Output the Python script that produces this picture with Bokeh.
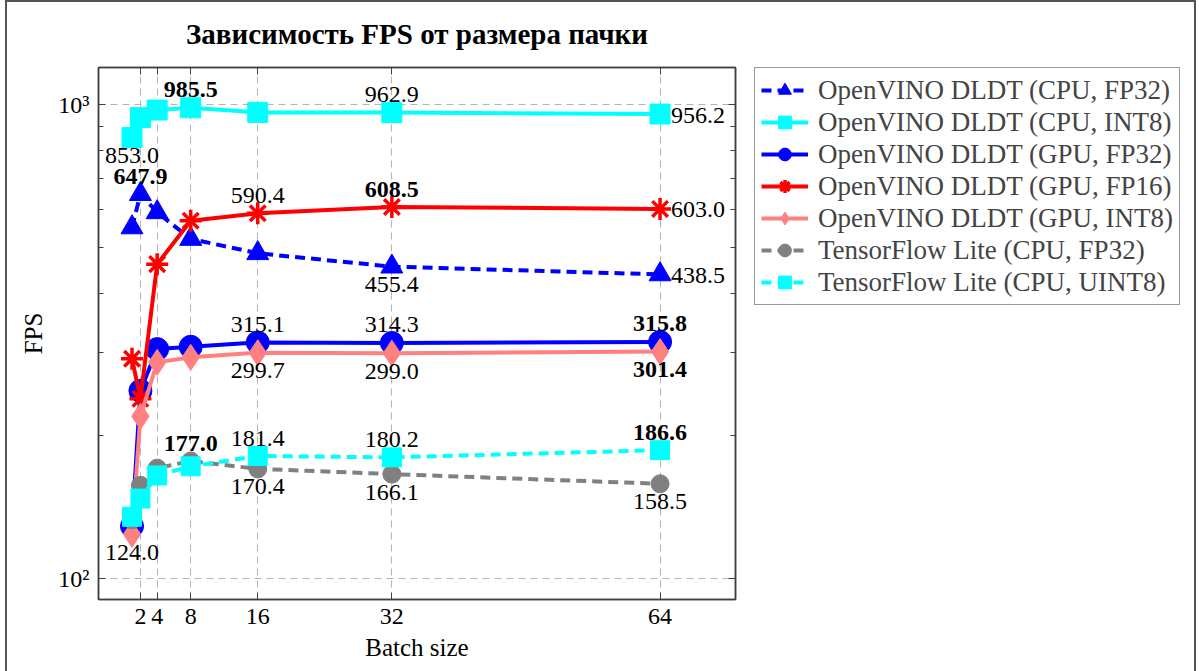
from bokeh.plotting import figure
from bokeh.layouts import row
from bokeh.models import (Range1d, FixedTicker, LinearAxis, LogAxis, Legend, LegendItem,
                          ColumnDataSource, CustomJSTickFormatter)
from bokeh.core.properties import value, field
from bokeh.embed import file_html
from bokeh.resources import INLINE

# ---------------- data ----------------
batch = [1, 2, 4, 8, 16, 32, 64]
ov_cpu_fp32 = [551.0, 647.9, 593.0, 521.0, 486.0, 455.4, 438.5]
ov_cpu_int8 = [853.0, 940.0, 975.0, 985.5, 964.0, 962.9, 956.2]
ov_gpu_fp32 = [129.0, 249.0, 305.0, 308.5, 315.1, 314.3, 315.8]
ov_gpu_fp16 = [291.0, 239.5, 461.0, 569.0, 590.4, 608.5, 603.0]
ov_gpu_int8 = [124.0, 220.0, 286.0, 293.0, 299.7, 299.0, 301.4]
tfl_cpu_fp32 = [133.0, 157.3, 171.0, 177.0, 170.4, 166.1, 158.5]
tfl_cpu_uint8 = [135.0, 147.5, 165.0, 172.5, 181.4, 180.2, 186.6]

series_names = [
    "OpenVINO DLDT (CPU, FP32)",
    "OpenVINO DLDT (CPU, INT8)",
    "OpenVINO DLDT (GPU, FP32)",
    "OpenVINO DLDT (GPU, FP16)",
    "OpenVINO DLDT (GPU, INT8)",
    "TensorFlow Lite (CPU, FP32)",
    "TensorFlow Lite (CPU, UINT8)",
]
series_values = [ov_cpu_fp32, ov_cpu_int8, ov_gpu_fp32, ov_gpu_fp16,
                 ov_gpu_int8, tfl_cpu_fp32, tfl_cpu_uint8]

x_ticks = [2, 4, 8, 16, 32, 64]
y_major = [100, 1000]
y_minor = [200, 300, 400, 500, 600, 700, 800, 900]
y_labels = {100: "10²", 1000: "10³"}

# which points get value labels, and where
label_points = [
    [(1, "above"), (5, "below"), (6, "right")],
    [(0, "below"), (3, "above"), (5, "above"), (6, "right")],
    [(4, "above"), (5, "above"), (6, "above")],
    [(4, "above"), (5, "above"), (6, "right")],
    [(0, "below"), (4, "below"), (5, "below"), (6, "below")],
    [(3, "above"), (4, "below"), (5, "below"), (6, "below")],
    [(4, "above"), (5, "above"), (6, "above")],
]

# ---------------- styles ----------------
styles = [
    dict(color="#0000ff", dash="10 6", marker="triangle", size=22),
    dict(color="#00ffff", dash="solid", marker="square", size=20),
    dict(color="#0000ff", dash="solid", marker="circle", size=23),
    dict(color="#ff0000", dash="solid", marker="asterisk", size=22),
    dict(color="#ff8080", dash="solid", marker="diamond", size=26),
    dict(color="#808080", dash="10 6", marker="circle", size=18),
    dict(color="#00ffff", dash="10 6", marker="square", size=19),
]

FONT = "Liberation Serif"
AX = "#404040"

p = figure(width=738, height=669, output_backend="svg", toolbar_location=None,
           x_range=Range1d(-3, 73), y_range=Range1d(90.3, 1199),
           y_axis_type="log",
           min_border_left=91, min_border_right=10,
           min_border_top=65, min_border_bottom=72,
           title="Зависимость FPS от размера пачки")
p.background_fill_color = "white"
p.border_fill_color = "white"
p.outline_line_color = AX
p.outline_line_width = 1.5

p.title.text_font = FONT
p.title.text_font_size = "29px"
p.title.text_font_style = "bold"
p.title.align = "center"
p.title.vertical_align = "top"
p.title.text_color = "black"
p.title.standoff = 31

# bottom x axis
xa = p.xaxis[0]
xa.ticker = FixedTicker(ticks=x_ticks, minor_ticks=[])
xa.axis_label = "Batch size"
# left y axis
ya = p.yaxis[0]
ya.ticker = FixedTicker(ticks=y_major, minor_ticks=y_minor)
ya.major_label_overrides = y_labels
ya.axis_label = "FPS"

for ax in (xa, ya):
    ax.axis_label_text_font = FONT
    ax.axis_label_text_font_size = "25px"
    ax.axis_label_text_font_style = "normal"
    ax.axis_label_text_color = "black"
    ax.major_label_text_font = FONT
    ax.major_label_text_font_size = "24px"
    ax.major_label_text_color = "black"
    ax.major_label_standoff = 9
    ax.axis_line_color = AX
    ax.axis_line_width = 1.5
    ax.major_tick_line_color = AX
    ax.minor_tick_line_color = AX
    ax.major_tick_in = 7
    ax.major_tick_out = 0
    ax.minor_tick_in = 5
    ax.minor_tick_out = 0
xa.axis_label_standoff = 7
ya.axis_label_standoff = 8

# mirrored axes (ticks only)
blank = CustomJSTickFormatter(code="return ''")
top_ax = LinearAxis(ticker=FixedTicker(ticks=x_ticks, minor_ticks=[]), formatter=blank)
right_ax = LogAxis(ticker=FixedTicker(ticks=y_major, minor_ticks=y_minor), formatter=blank)
for ax in (top_ax, right_ax):
    ax.axis_line_color = AX
    ax.axis_line_width = 1.5
    ax.major_tick_line_color = AX
    ax.minor_tick_line_color = AX
    ax.major_tick_in = 7
    ax.major_tick_out = 0
    ax.minor_tick_in = 5
    ax.minor_tick_out = 0
    ax.major_label_text_font_size = "1px"
    ax.major_label_standoff = 0
p.add_layout(top_ax, "above")
p.add_layout(right_ax, "right")

# grids
p.xgrid.ticker = FixedTicker(ticks=x_ticks, minor_ticks=[])
p.ygrid.ticker = FixedTicker(ticks=y_major, minor_ticks=[])
for g in (p.xgrid[0], p.ygrid[0]):
    g.grid_line_color = "#b4b4b4"
    g.grid_line_dash = "7 5"
    g.grid_line_width = 1


def add_series(fig, xs, ys, st):
    src = ColumnDataSource(dict(x=xs, y=ys))
    lr = fig.line("x", "y", source=src, line_color=st["color"], line_width=4,
                  line_dash=st["dash"])
    if st["marker"] == "asterisk":
        sr = fig.scatter("x", "y", source=src, marker="asterisk", size=st["size"],
                         line_color=st["color"], line_width=3.5)
    else:
        sr = fig.scatter("x", "y", source=src, marker=st["marker"], size=st["size"],
                         fill_color=st["color"], line_color=st["color"], line_width=1)
    return lr, sr


for vals, st in zip(series_values, styles):
    add_series(p, batch, vals, st)

# value labels
offs = {"above": ("center", 0, -18), "below": ("center", 0, 18), "right": ("left", 11, 1)}
lx, ly, lt, la, lxo, lyo, ls = [], [], [], [], [], [], []
for vals, spec in zip(series_values, label_points):
    vmax = max(vals)
    for idx, where in spec:
        a, xo, yo = offs[where]
        lx.append(batch[idx]); ly.append(vals[idx])
        lt.append(f"{vals[idx]:.1f}")
        la.append(a); lxo.append(xo); lyo.append(yo)
        ls.append("bold" if vals[idx] == vmax else "normal")
lsrc = ColumnDataSource(dict(x=lx, y=ly, text=lt, align=la, xo=lxo, yo=lyo, style=ls))
p.text(x="x", y="y", text="text", source=lsrc, text_align=field("align"),
       x_offset=field("xo"), y_offset=field("yo"), text_font_style=field("style"),
       text_baseline="middle", text_font=value(FONT), text_font_size="24px",
       text_color="black")

# ---------------- legend panel ----------------
# same series drawn off-range (nothing visible) so the legend has glyphs to show
lf = figure(width=449, height=669, output_backend="svg", toolbar_location=None,
            x_range=Range1d(-20, -10), y_range=Range1d(-20, -10),
            x_axis_location=None, y_axis_location=None,
            min_border_left=9, min_border_right=0,
            min_border_top=0, min_border_bottom=0)
lf.grid.visible = False
lf.outline_line_color = None
lf.background_fill_color = "white"
lf.border_fill_color = "white"

items = []
for name, vals, st in zip(series_names, series_values, styles):
    lr, sr = add_series(lf, batch, vals, st)
    items.append(LegendItem(label=name, renderers=[lr, sr]))

legend = Legend(items=items, location="top_left", margin=0, padding=6, spacing=0,
                glyph_width=47, glyph_height=32, label_height=32, label_standoff=10,
                label_text_font=FONT, label_text_font_size="27px",
                label_text_baseline="middle",
                border_line_color="#333333", border_line_width=1.5,
                background_fill_color="white", background_fill_alpha=1.0)
lf.add_layout(legend)

layout = row(p, lf, styles={"margin-left": "5px", "border-left": "2px solid #555555",
                            "border-top": "2px solid #555555",
                            "border-right": "2px solid #555555"})

open("out.html", "w").write(file_html(layout, INLINE))
